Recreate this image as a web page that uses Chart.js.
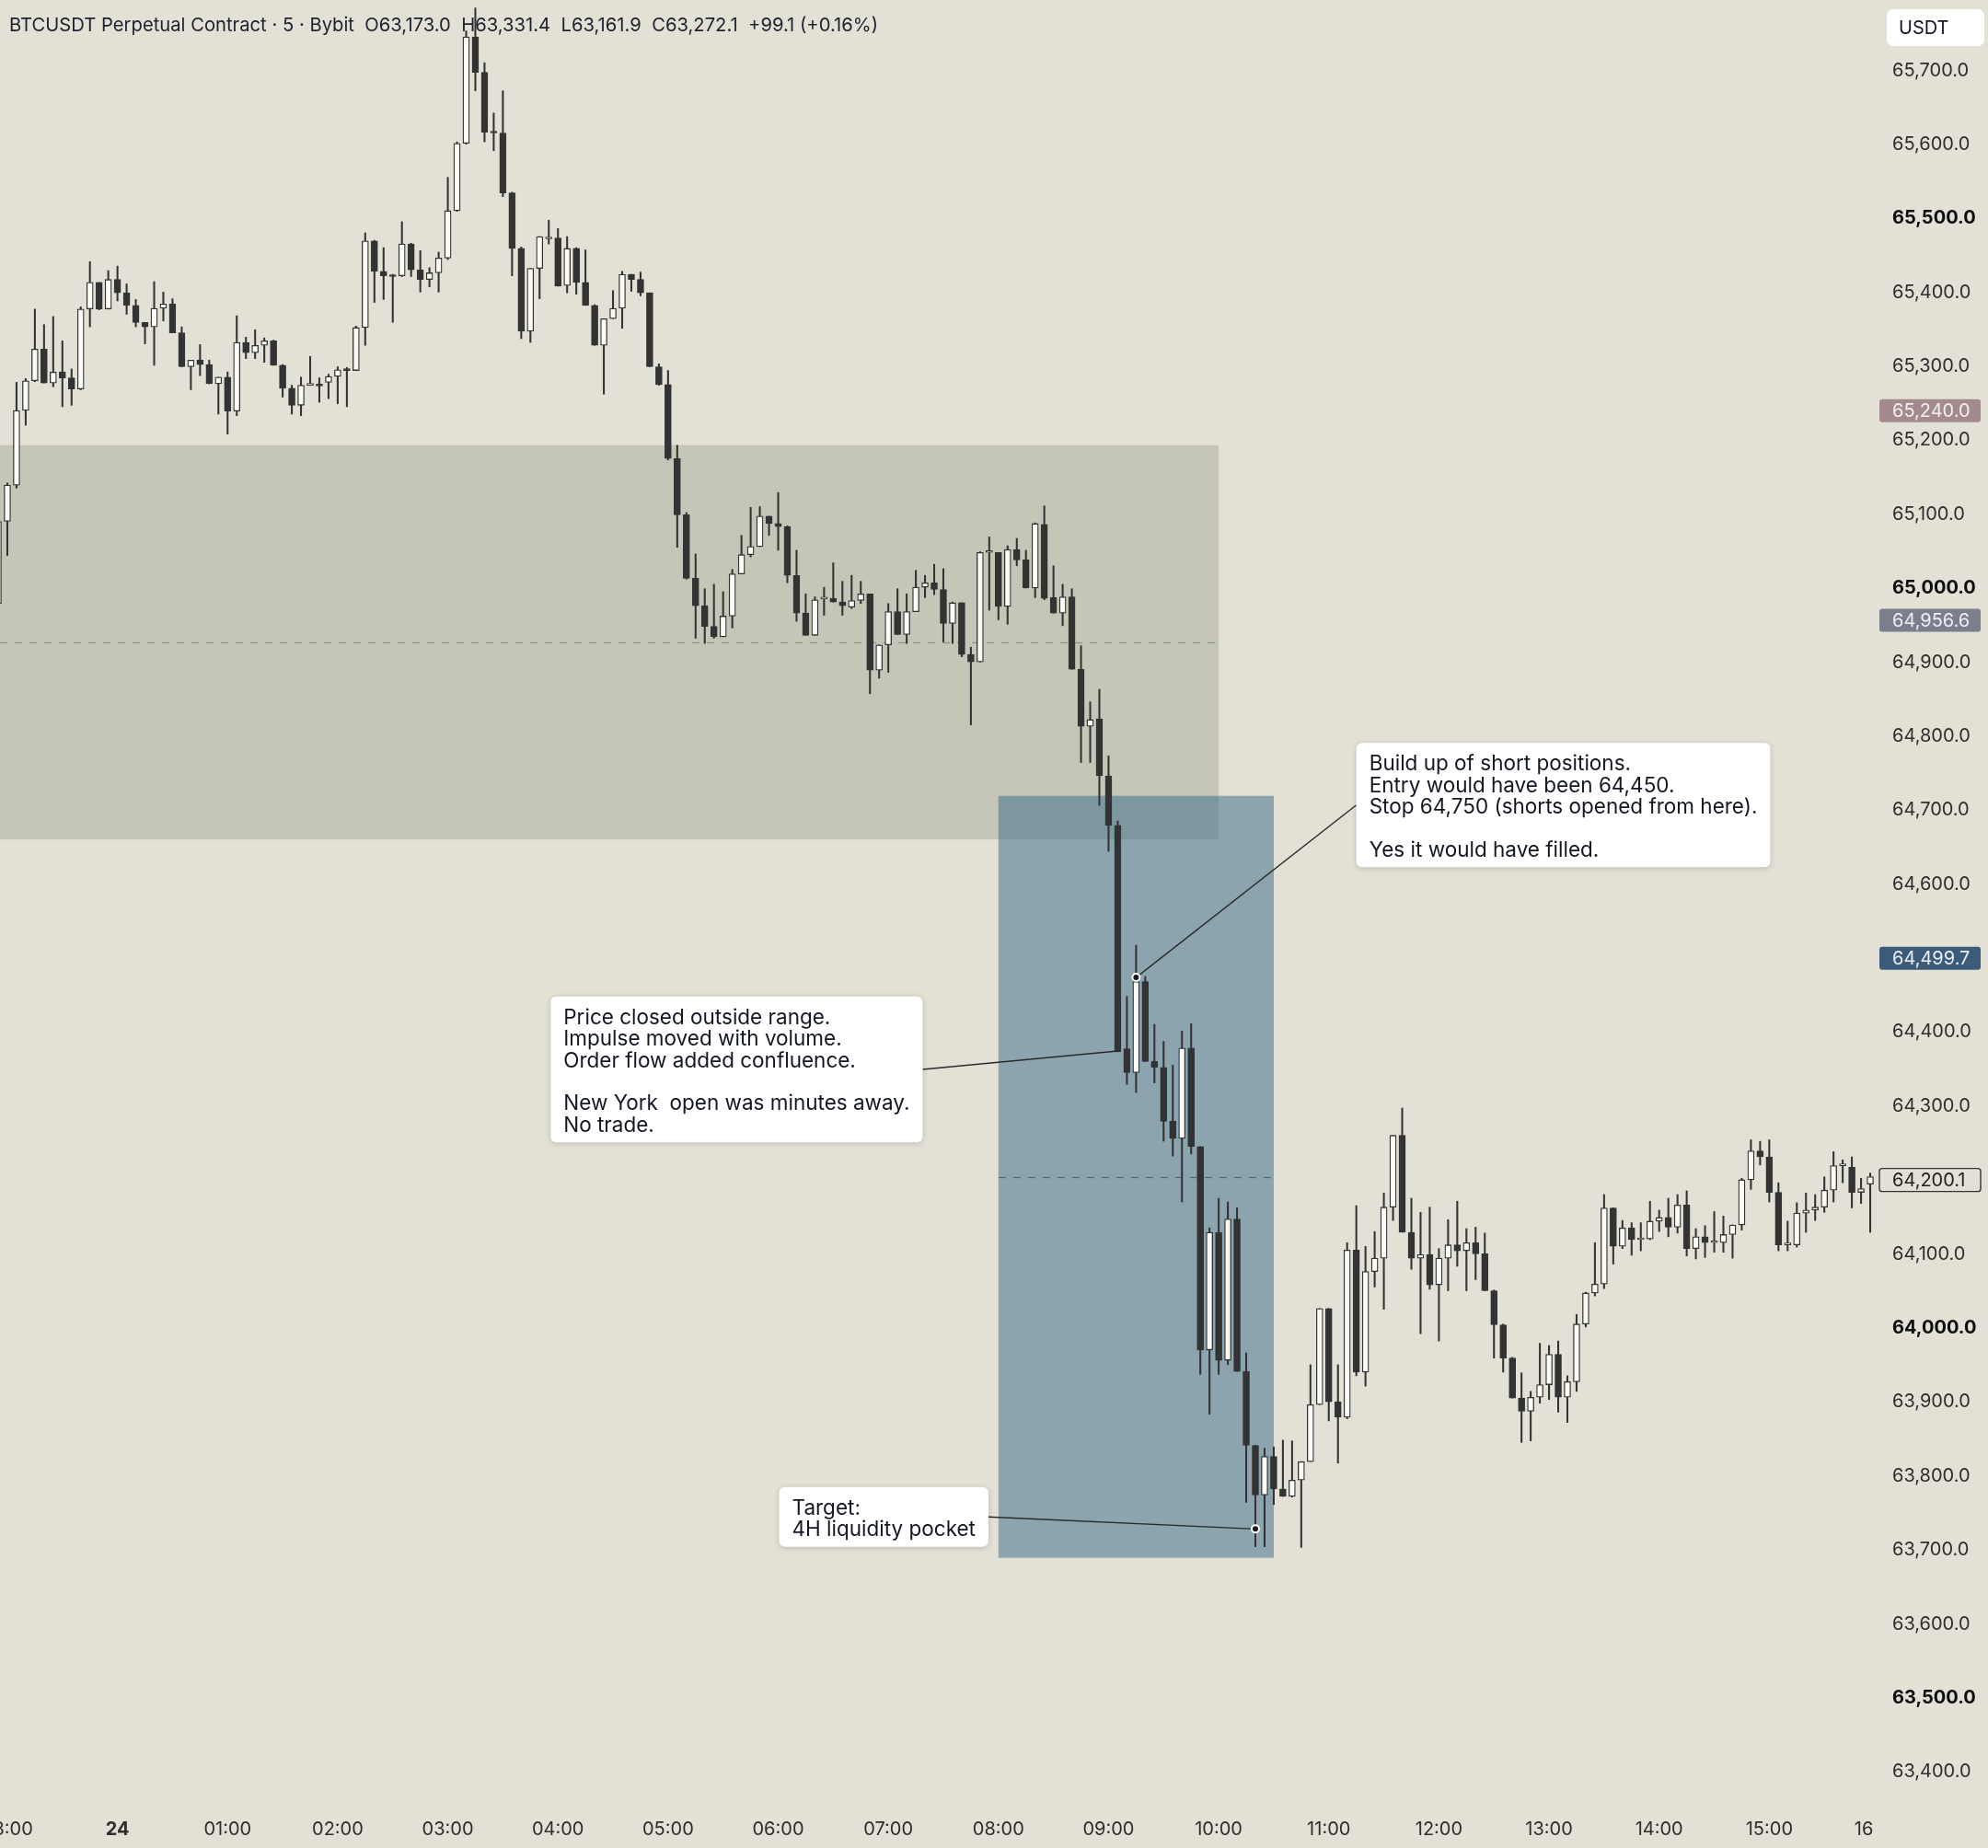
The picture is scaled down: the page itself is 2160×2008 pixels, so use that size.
<!DOCTYPE html>
<html>
<head>
<meta charset="utf-8">
<title>BTCUSDT 5m</title>
<script src="https://cdn.jsdelivr.net/npm/chart.js@4.4.1/dist/chart.umd.min.js"></script>
<style>
    html, body { margin: 0; padding: 0; background: #e3e1d5; overflow: hidden; }
    #wrap { position: absolute; left: -2px; top: 0; width: 2162px; height: 2008px; }
</style>
</head>
<body>
<div id="wrap"><canvas id="chart"></canvas></div>
<script>
// 5 minute bars, 22:55 .. 16:00
const times = [
    '22:55',
    '23:00','23:05','23:10','23:15','23:20','23:25','23:30','23:35','23:40','23:45','23:50','23:55',
    '00:00','00:05','00:10','00:15','00:20','00:25','00:30','00:35','00:40','00:45','00:50','00:55',
    '01:00','01:05','01:10','01:15','01:20','01:25','01:30','01:35','01:40','01:45','01:50','01:55',
    '02:00','02:05','02:10','02:15','02:20','02:25','02:30','02:35','02:40','02:45','02:50','02:55',
    '03:00','03:05','03:10','03:15','03:20','03:25','03:30','03:35','03:40','03:45','03:50','03:55',
    '04:00','04:05','04:10','04:15','04:20','04:25','04:30','04:35','04:40','04:45','04:50','04:55',
    '05:00','05:05','05:10','05:15','05:20','05:25','05:30','05:35','05:40','05:45','05:50','05:55',
    '06:00','06:05','06:10','06:15','06:20','06:25','06:30','06:35','06:40','06:45','06:50','06:55',
    '07:00','07:05','07:10','07:15','07:20','07:25','07:30','07:35','07:40','07:45','07:50','07:55',
    '08:00','08:05','08:10','08:15','08:20','08:25','08:30','08:35','08:40','08:45','08:50','08:55',
    '09:00','09:05','09:10','09:15','09:20','09:25','09:30','09:35','09:40','09:45','09:50','09:55',
    '10:00','10:05','10:10','10:15','10:20','10:25','10:30','10:35','10:40','10:45','10:50','10:55',
    '11:00','11:05','11:10','11:15','11:20','11:25','11:30','11:35','11:40','11:45','11:50','11:55',
    '12:00','12:05','12:10','12:15','12:20','12:25','12:30','12:35','12:40','12:45','12:50','12:55',
    '13:00','13:05','13:10','13:15','13:20','13:25','13:30','13:35','13:40','13:45','13:50','13:55',
    '14:00','14:05','14:10','14:15','14:20','14:25','14:30','14:35','14:40','14:45','14:50','14:55',
    '15:00','15:05','15:10','15:15','15:20','15:25','15:30','15:35','15:40','15:45','15:50','15:55',
    '16:00'
];

const opens = [
    64975,
    65086,65135,65236,65276,65319,65273,65288,65280,65265,65373,65409,65373,
    65413,65395,65378,65355,65349,65374,65380,65341,65295,65304,65298,65272,
    65281,65235,65328,65314,65324,65330,65297,65266,65243,65270,65271,65274,
    65282,65292,65290,65348,65465,65424,65419,65418,65461,65426,65413,65422,
    65442,65506,65597,65741,65693,65612,65611,65530,65455,65343,65428,65468,
    65469,65405,65455,65409,65378,65324,65360,65374,65420,65413,65395,65295,
    65271,65171,65095,65009,64972,64944,64930,64958,65015,65041,65052,65093,
    65083,65079,65013,64962,64932,64981,64982,64977,64970,64979,64988,64885,
    64919,64964,64933,64964,64997,65003,64994,64948,64976,64906,64896,65044,
    65044,64971,65048,65034,64996,65082,64983,64962,64984,64886,64809,64819,
    64742,64675,64373,64341,64464,64356,64348,64275,64252,64374,64241,63966,
    64125,63952,64143,63937,63837,63770,63822,63778,63768,63790,63815,63892,
    64022,63896,63875,64101,63936,64072,64090,64159,64256,64125,64090,64095,
    64054,64090,64108,64100,64111,64096,64046,64000,63955,63901,63883,63902,
    63919,63960,63902,63923,64001,64043,64055,64158,64106,64131,64115,64116,
    64140,64145,64132,64162,64103,64119,64111,64111,64122,64135,64196,64235,
    64227,64179,64108,64108,64151,64155,64159,64182,64215,64213,64179,64190,
    null
];

const highs = [
    65090,
    65138,65274,65279,65373,65352,65363,65330,65292,65376,65437,65409,65425,
    65431,65407,65386,65355,65410,65396,65387,65349,65304,65325,65304,65281,
    65288,65364,65335,65345,65334,65331,65298,65270,65281,65309,65280,65285,
    65295,65294,65350,65476,65466,65456,65420,65491,65462,65452,65429,65450,
    65551,65599,65749,65780,65706,65638,65668,65531,65457,65428,65471,65493,
    65482,65471,65456,65453,65379,65360,65398,65424,65420,65423,65395,65299,
    65290,65189,65098,65042,64995,65001,64991,65021,65067,65105,65106,65093,
    65125,65080,65047,64988,64984,64997,65030,65005,65013,65005,64988,64919,
    64975,64995,64988,65020,65013,65028,65022,64977,64976,64916,65045,65065,
    65044,65053,65063,65047,65084,65107,65026,65001,64995,64918,64842,64859,
    64769,64681,64444,64513,64471,64406,64383,64351,64397,64407,64241,64131,
    64171,64166,64158,63962,63837,63833,63835,63844,63843,63815,63946,64022,
    64022,63946,64111,64161,64106,64126,64178,64256,64293,64171,64152,64159,
    64103,64142,64167,64130,64132,64124,64047,64001,63956,63935,63910,63975,
    63972,63978,63931,64014,64044,64111,64176,64158,64141,64138,64138,64167,
    64155,64171,64176,64181,64130,64134,64153,64147,64135,64198,64250,64248,
    64250,64192,64140,64165,64178,64176,64200,64234,64223,64227,64198,64205,
    null
];

const lows = [
    64960,
    65040,65131,65216,65275,65273,65268,65241,65243,65264,65349,65372,65373,
    65384,65366,65349,65326,65297,65357,65341,65295,65264,65283,65272,65231,
    65204,65229,65306,65306,65301,65297,65254,65231,65229,65270,65247,65252,
    65245,65241,65290,65324,65382,65386,65355,65417,65417,65396,65403,65396,
    65440,65505,65596,65668,65599,65587,65525,65418,65333,65328,65387,65461,
    65404,65395,65393,65378,65324,65258,65360,65347,65397,65391,65295,65270,
    65169,65051,65008,64928,64921,64928,64930,64942,65015,65038,65052,65067,
    65047,65003,64951,64932,64932,64959,64977,64959,64968,64975,64853,64874,
    64882,64933,64921,64964,64983,64987,64923,64921,64903,64811,64896,64966,
    64953,64947,65026,64996,64983,64980,64962,64945,64886,64760,64760,64702,
    64640,64369,64325,64314,64356,64327,64248,64228,64166,64231,63933,63879,
    63933,63946,63937,63760,63700,63700,63757,63768,63767,63699,63815,63892,
    63870,63813,63873,63931,63917,64051,64021,64141,64125,64075,63988,64048,
    63978,64046,64079,64046,64061,64046,63955,63936,63901,63841,63843,63894,
    63899,63882,63868,63910,63997,64039,64049,64082,64103,64094,64100,64115,
    64126,64119,64124,64093,64089,64091,64098,64098,64090,64128,64183,64216,
    64166,64100,64100,64105,64125,64141,64152,64166,64192,64158,64164,64125,
    null
];

const closes = [
    65086,
    65135,65236,65276,65319,65273,65288,65280,65265,65373,65409,65373,65413,
    65395,65378,65355,65349,65374,65380,65341,65295,65304,65298,65272,65281,
    65235,65328,65314,65324,65330,65297,65266,65243,65270,65271,65269,65282,
    65291,65290,65348,65465,65424,65418,65417,65461,65426,65413,65422,65442,
    65506,65597,65741,65693,65612,65611,65530,65455,65343,65428,65471,65469,
    65404,65455,65409,65378,65324,65360,65374,65420,65413,65395,65295,65271,
    65171,65095,65009,64972,64944,64930,64958,65015,65041,65052,65093,65083,
    65079,65013,64962,64932,64980,64982,64977,64972,64979,64988,64885,64919,
    64964,64933,64964,64997,65003,64994,64948,64976,64906,64896,65044,65045,
    64971,65048,65034,64996,65083,64982,64962,64984,64886,64809,64818,64742,
    64675,64369,64341,64464,64356,64348,64275,64252,64374,64241,63966,64125,
    63952,64143,63937,63837,63770,63822,63778,63768,63790,63815,63892,64022,
    63896,63875,64101,63936,64072,64090,64159,64256,64125,64090,64095,64054,
    64090,64108,64100,64111,64096,64046,64000,63955,63901,63883,63902,63919,
    63960,63902,63923,64001,64043,64055,64158,64106,64131,64115,64116,64140,
    64145,64132,64162,64103,64119,64111,64112,64122,64135,64196,64235,64227,
    64179,64108,64109,64151,64155,64159,64182,64215,64216,64179,64184,64200.1,
    null
];

// price range for the axis
const priceMin = 63348.7;
const priceMax = 65790.8;

// rectangles (bar index into times, price)
const zoneFrom = [-3, 109];
const zoneTo = [133, 139];
const zoneHigh = [65189, 64715];
const zoneLow = [64656, 63685];
const zoneFill = ['rgba(140,150,130,0.35)', 'rgba(51,103,135,0.5)'];
const zoneMid = ['rgba(125,135,115,0.8)', 'rgba(60,90,115,0.8)'];

// callouts
const noteLines = [
    ['Build up of short positions.', 'Entry would have been 64,450.', 'Stop 64,750 (shorts opened from here).', '', 'Yes it would have filled.'],
    ['Price closed outside range.', 'Impulse moved with volume.', 'Order flow added confluence.', '', 'New York  open was minutes away.', 'No trade.'],
    ['Target:', '4H liquidity pocket']
];
const noteAt = [148.0, 60.2, 85.1];
const noteTop = [64786.5, 64443.8, 63780.6];
const pinAt = [124, 122, 137];
const pinPrice = [64469.5, 64370, 63724];
const pinDot = [true, false, true];

// price tags on the axis
const tagPrices = [65240.0, 64956.6, 64499.7, 64200.1];
const tagFill = ['#a38b8d', '#7b7e8d', '#3c5b79', null];
const tagText = ['#f4eeee', '#eeeef2', '#e8eef4', '#222'];

const titleText = 'BTCUSDT Perpetual Contract · 5 · Bybit  O63,173.0  H63,331.4  L63,161.9  C63,272.1  +99.1 (+0.16%)';

const BG = '#e3e1d5';
const DARK = '#333333';

function fmtPrice(v) {
    return Number(v).toLocaleString('en-US', {minimumFractionDigits: 1, maximumFractionDigits: 1});
}

const overlay = {
    id: 'overlay',
    beforeDraw(chart) {
        const ctx = chart.ctx;
        ctx.save();
        ctx.fillStyle = BG;
        ctx.fillRect(0, 0, chart.width, chart.height);
        ctx.restore();
    },
    beforeDatasetsDraw(chart) {
        const {ctx, chartArea: a, scales: {x, y}} = chart;
        ctx.save();
        ctx.beginPath();
        ctx.rect(a.left, a.top, a.right - a.left, a.bottom - a.top);
        ctx.clip();
        zoneFrom.forEach((f, k) => {
            const x0 = x.getPixelForValue(f);
            const x1 = x.getPixelForValue(zoneTo[k]);
            const y0 = y.getPixelForValue(zoneHigh[k]);
            const y1 = y.getPixelForValue(zoneLow[k]);
            ctx.fillStyle = zoneFill[k];
            ctx.fillRect(x0, y0, x1 - x0, y1 - y0);
            const ym = Math.round(y.getPixelForValue((zoneHigh[k] + zoneLow[k]) / 2)) + 0.5;
            ctx.strokeStyle = zoneMid[k];
            ctx.lineWidth = 1.3;
            ctx.setLineDash([8, 8]);
            ctx.beginPath();
            ctx.moveTo(x0, ym);
            ctx.lineTo(x1, ym);
            ctx.stroke();
        });
        ctx.restore();
    },
    afterDraw(chart) {
        const {ctx, chartArea: a, scales: {x, y}} = chart;
        ctx.save();

        // callouts
        ctx.font = '22.5px Inter';
        noteLines.forEach((lines, k) => {
            const w = Math.max(...lines.map(t => ctx.measureText(t).width)) + 28;
            const h = lines.length * 23.4 + 18;
            const bx = x.getPixelForValue(noteAt[k]);
            const by = y.getPixelForValue(noteTop[k]);
            const px = x.getPixelForValue(pinAt[k]);
            const py = y.getPixelForValue(pinPrice[k]);
            const ex = px < bx ? bx : bx + w;

            ctx.strokeStyle = '#2a2a2a';
            ctx.lineWidth = 1.4;
            ctx.beginPath();
            ctx.moveTo(ex, by + h / 2);
            ctx.lineTo(px, py);
            ctx.stroke();

            ctx.save();
            ctx.shadowColor = 'rgba(0,0,0,0.18)';
            ctx.shadowBlur = 6;
            ctx.shadowOffsetY = 1;
            ctx.fillStyle = '#ffffff';
            ctx.beginPath();
            ctx.roundRect(bx, by, w, h, 6);
            ctx.fill();
            ctx.restore();

            ctx.fillStyle = '#131722';
            ctx.textAlign = 'left';
            ctx.textBaseline = 'middle';
            lines.forEach((t, j) => ctx.fillText(t, bx + 14, by + 11.5 + 23.4 * (j + 0.5)));

            if (pinDot[k]) {
                ctx.fillStyle = '#ffffff';
                ctx.beginPath();
                ctx.arc(px, py, 5, 0, Math.PI * 2);
                ctx.fill();
                ctx.fillStyle = '#1a1a1a';
                ctx.beginPath();
                ctx.arc(px, py, 3, 0, Math.PI * 2);
                ctx.fill();
            }
        });

        // axis price tags
        ctx.font = '20px Inter';
        tagPrices.forEach((p, k) => {
            const yy = y.getPixelForValue(p) + 3.5;
            ctx.beginPath();
            ctx.roundRect(a.right, yy - 12.5, 110, 25, 3);
            if (tagFill[k]) {
                ctx.fillStyle = tagFill[k];
                ctx.fill();
            } else {
                ctx.fillStyle = BG;
                ctx.fill();
                ctx.strokeStyle = '#333';
                ctx.lineWidth = 1.4;
                ctx.stroke();
            }
            ctx.fillStyle = tagText[k];
            ctx.textAlign = 'left';
            ctx.textBaseline = 'middle';
            ctx.fillText(fmtPrice(p), a.right + 14, yy + 1);
        });

        // currency box
        ctx.fillStyle = '#ffffff';
        ctx.beginPath();
        ctx.roundRect(a.right + 8, 10, 106, 40, 7);
        ctx.fill();
        ctx.fillStyle = '#131722';
        ctx.font = '20px Inter';
        ctx.fillText('USDT', a.right + 21, 31);

        // symbol line
        ctx.font = '20.5px Inter';
        ctx.fillStyle = '#1e222d';
        ctx.textBaseline = 'middle';
        ctx.fillText(titleText, 12, 28, 944);

        ctx.restore();
    }
};

new Chart(document.getElementById('chart'), {
    type: 'bar',
    data: {
        labels: times,
        datasets: [
            {
                label: 'body',
                data: closes.map((c, i) => c == null ? null : [opens[i], c]),
                backgroundColor: closes.map((c, i) => c != null && c >= opens[i] ? '#fbfaf5' : DARK),
                borderColor: DARK,
                borderWidth: 1.3,
                borderSkipped: false,
                barThickness: 7,
                minBarLength: 2,
                grouped: false,
                order: 1
            },
            {
                label: 'wick',
                data: highs.map((h, i) => h == null ? null : [lows[i], h]),
                backgroundColor: DARK,
                borderWidth: 0,
                barThickness: 1.4,
                grouped: false,
                order: 2
            }
        ]
    },
    options: {
        responsive: true,
        maintainAspectRatio: false,
        animation: false,
        devicePixelRatio: 1,
        layout: { padding: 0 },
        plugins: {
            legend: { display: false },
            tooltip: { enabled: false },
            title: { display: false }
        },
        scales: {
            x: {
                type: 'category',
                offset: false,
                grid: { display: false, drawTicks: false },
                border: { display: false },
                ticks: {
                    autoSkip: false,
                    maxRotation: 0,
                    minRotation: 0,
                    padding: 13,
                    color: '#2e2e2e',
                    font: (c) => ({ family: 'Inter', size: 20, weight: c.tick && c.tick.label === '24' ? 'bold' : 'normal' }),
                    callback: function (v) {
                        const t = times[v];
                        if (!t || t.slice(3) !== '00') return null;
                        if (t === '00:00') return '24';
                        // last label sits against the price scale, pad it so it reads left of the edge
                        if (t === '16:00') return '16' + '\u00a0'.repeat(6);
                        return t;
                    }
                },
                afterFit: (s) => { s.height = 45; s.paddingLeft = 0; s.paddingRight = 0; }
            },
            y: {
                position: 'right',
                min: priceMin,
                max: priceMax,
                grid: { display: false, drawTicks: false },
                border: { display: false },
                ticks: {
                    stepSize: 100,
                    includeBounds: false,
                    padding: 14,
                    labelOffset: 3.5,
                    color: (c) => c.tick && c.tick.value % 500 === 0 ? '#0e0e0e' : '#2e2e2e',
                    font: (c) => ({ family: 'Inter', size: 20, weight: c.tick && c.tick.value % 500 === 0 ? 'bold' : 'normal' }),
                    callback: (v) => fmtPrice(v)
                },
                afterFit: (s) => { s.width = 118; s.paddingTop = 0; s.paddingBottom = 0; }
            }
        }
    },
    plugins: [overlay]
});
</script>
</body>
</html>
